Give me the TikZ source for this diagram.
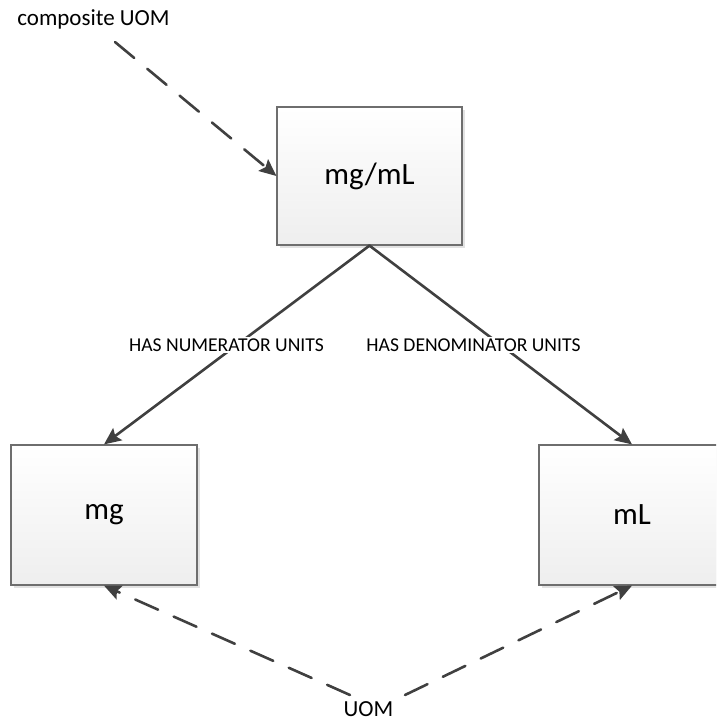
\documentclass[tikz,border=0pt]{standalone}
\usepackage{fontspec}
\setmainfont{Carlito}
\usetikzlibrary{arrows.meta,shadows}

\definecolor{linegray}{HTML}{404040}
\definecolor{boxedge}{HTML}{6E6E6E}
\definecolor{boxlow}{HTML}{EEEEEE}
\definecolor{shadowgray}{HTML}{E2E2E2}

\begin{document}
\begin{tikzpicture}[x=1pt,y=-1pt,
  unitbox/.style={draw=boxedge, line width=1.2pt, top color=white, bottom color=boxlow,
    minimum width=185pt, minimum height=138pt, inner sep=0pt,
    font=\fontsize{31}{37}\selectfont,
    drop shadow={shadow xshift=3pt, shadow yshift=-3pt, fill=shadowgray, opacity=1}},
  freetext/.style={inner sep=1pt, font=\fontsize{23}{27}\selectfont},
  relabel/.style={fill=white, inner sep=2pt, font=\fontsize{19.6}{23}\selectfont},
  solidarrow/.style={draw=linegray, line width=2.6pt, line cap=round,
    -{Stealth[length=17pt, width=15pt, inset=3pt]}},
  dasharrow/.style={solidarrow, dash pattern=on 25pt off 17pt}
]
\useasboundingbox (0,0) rectangle (716,724);
\clip (0,0) rectangle (716,724);

% unit boxes
\node[unitbox] (mgml) at (369.5,176) {mg/mL};
\node[unitbox, minimum width=186pt, minimum height=140pt] (mg) at (104,515) {mg};
\node[unitbox, minimum width=186pt, minimum height=140pt] (mL) at (632,515) {mL};

% free labels
\node[freetext] (comp) at (93.5,19) {composite UOM};
\node[freetext] (uom) at (368.5,709) {UOM};
\coordinate (c0) at (115,42);
\coordinate (u1) at (350,695);
\coordinate (u2) at (405,695);

% relations
\draw[solidarrow] (mgml.south) -- (mg.north);
\draw[solidarrow] (mgml.south) -- (mL.north);
\node[relabel] (num) at (226.5,345) {HAS NUMERATOR UNITS};
\node[relabel] (den) at (473.5,345) {HAS DENOMINATOR UNITS};

% type links
\draw[dasharrow] (c0) -- (mgml.west);
\draw[dasharrow] (u1) -- (mg.south);
\draw[dasharrow] (u2) -- (mL.south);
\end{tikzpicture}
\end{document}
